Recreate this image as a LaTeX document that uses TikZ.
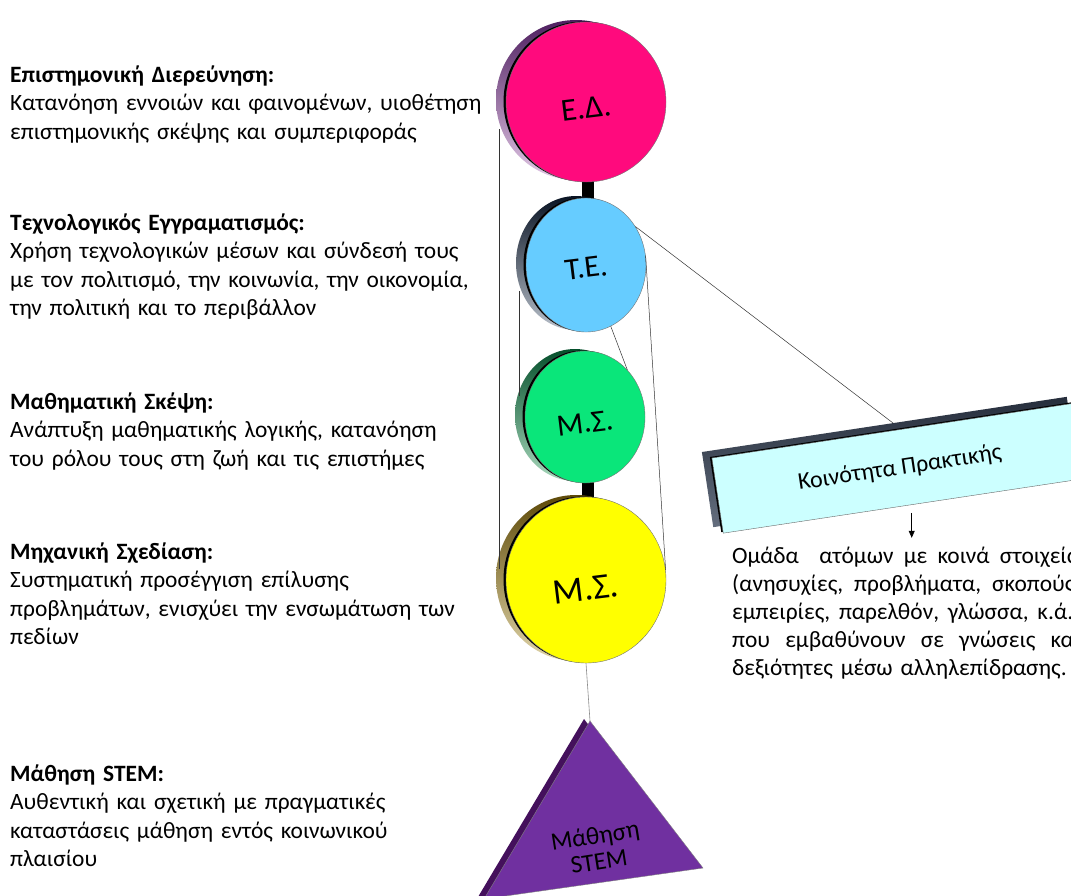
\documentclass[tikz,border=0pt]{standalone}
\usepackage{fontspec}
\setmainfont{Carlito}
\usetikzlibrary{shapes.geometric,shadows,arrows.meta}

\definecolor{edface}{HTML}{FF0A7D}
\definecolor{edrimA}{HTML}{4F1F60}
\definecolor{edrimB}{HTML}{E2C8E6}
\definecolor{teface}{HTML}{66CCFF}
\definecolor{terimA}{HTML}{0A1424}
\definecolor{terimB}{HTML}{B8C0CA}
\definecolor{msgface}{HTML}{0AE67A}
\definecolor{msgrimA}{HTML}{05502C}
\definecolor{msgrimB}{HTML}{A8D8BC}
\definecolor{msyface}{HTML}{FFFF00}
\definecolor{msyrimA}{HTML}{5E4A08}
\definecolor{msyrimB}{HTML}{E0D4A8}
\definecolor{boxface}{HTML}{CCFFFF}
\definecolor{boxrimA}{HTML}{262E3C}
\definecolor{boxrimB}{HTML}{646E7E}
\definecolor{triface}{HTML}{7030A0}
\definecolor{tririm}{HTML}{44105C}

% a stretchable word gap for the justified lines
\newcommand{\wgap}{\hspace{0.23em plus 1fil}}
\newcommand{\jline}[1]{\leavevmode\hbox to 348pt{#1}}

\begin{document}
\begin{tikzpicture}[x=1pt,y=-1pt,
  link/.style={draw=black!80, line width=0.5pt},
  blurb/.style={anchor=base west, inner sep=0pt, text width=560pt, align=left,
    font=\fontsize{23.4}{28.5}\selectfont},
  disc/.style n args={3}{ellipse, inner sep=0pt, fill=#1, draw=black!55, line width=0.4pt,
    general shadow={shadow xshift=-10pt, shadow yshift=2pt, top color=#2, bottom color=#3},
    general shadow={shadow xshift=-2.5pt, shadow yshift=0.5pt, fill=black}},
  disclabel/.style={rotate=7, inner sep=0pt},
  plaque/.style={rectangle, inner sep=0pt, fill=boxface, draw=black!60, line width=0.4pt,
    general shadow={shadow xshift=-10pt, shadow yshift=6pt, top color=boxrimA, bottom color=boxrimB},
    general shadow={shadow xshift=-2pt, shadow yshift=1pt, fill=black},
    font=\fontsize{24}{26}\selectfont}
]
\useasboundingbox (0,0) rectangle (1071,895);
\clip (0,0) rectangle (1071,895);
\fill[white] (0,0) rectangle (1071,895);

% descriptions on the left
\node[blurb] (t1) at (10,82) {\textbf{Επιστημονική Διερεύνηση:}\\
  Κατανόηση εννοιών και φαινομένων, υιοθέτηση\\
  επιστημονικής σκέψης και συμπεριφοράς};
\node[blurb] (t2) at (10,230) {\textbf{Τεχνολογικός Εγγραματισμός:}\\
  Χρήση τεχνολογικών μέσων και σύνδεσή τους\\
  με τον πολιτισμό, την κοινωνία, την οικονομία,\\
  την πολιτική και το περιβάλλον};
\node[blurb] (t3) at (10,409) {\textbf{Μαθηματική Σκέψη:}\\
  Ανάπτυξη μαθηματικής λογικής, κατανόηση\\
  του ρόλου τους στη ζωή και τις επιστήμες};
\node[blurb] (t4) at (10,559) {\textbf{Μηχανική Σχεδίαση:}\\
  Συστηματική προσέγγιση επίλυσης\\
  προβλημάτων, ενισχύει την ενσωμάτωση των\\
  πεδίων};
\node[blurb] (t5) at (10,781) {\textbf{Μάθηση STEM:}\\
  Αυθεντική και σχετική με πραγματικές\\
  καταστάσεις μάθηση εντός κοινωνικού\\
  πλαισίου};

% stems joining the discs
\fill[black] (582,170) rectangle (594,205);
\fill[black] (582,475) rectangle (594,505);

% the four discs
\node[disc={edface}{edrimA}{edrimB}, minimum width=160, minimum height=160] (ed) at (586,102) {};
\node[disc={teface}{terimA}{terimB}, minimum width=120, minimum height=134] (te) at (586,265) {};
\node[disc={msgface}{msgrimA}{msgrimB}, minimum width=120, minimum height=132] (msg) at (585,417) {};
\node[disc={msyface}{msyrimA}{msyrimB}, minimum width=160, minimum height=166] (msy) at (586,580) {};

\node[disclabel, font=\fontsize{32}{32}\selectfont] (edl) at ([yshift=-6pt]ed.center) {Ε.Δ.};
\node[disclabel, font=\fontsize{31}{31}\selectfont] (tel) at ([yshift=-3pt]te.center) {Τ.Ε.};
\node[disclabel, font=\fontsize{31}{31}\selectfont] (msgl) at ([yshift=-6pt]msg.center) {Μ.Σ.};
\node[disclabel, font=\fontsize{36}{36}\selectfont] (msyl) at ([yshift=-9pt]msy.center) {Μ.Σ.};

% thin connecting lines between the discs
\coordinate (l1top) at ([xshift=-11pt]ed.200);
\draw[link] (l1top) -- (l1top |- msy.172);
\coordinate (l2top) at ([xshift=-11pt]te.205);
\draw[link] (l2top) -- (l2top |- msg.160);
\draw[link] (te.9) -- (msy.7);
\draw[link] (te.292) -- (msg.48);

% community of practice plaque
\node[plaque, rotate=8.6, minimum width=369, minimum height=76] (bx) at (900,468) {Κοινότητα Πρακτικής};
\draw[link] (te.38) -- ([shift={(-1pt,7pt)}]bx.north);

\coordinate (arrS) at ([xshift=6pt,yshift=-7pt]bx.south);
\coordinate (arrE) at ([yshift=-25pt]arrS);
\draw[black, line width=0.6pt, -{Triangle[length=7pt,width=6pt]}] (arrS) -- (arrE);

% justified description under the plaque
\node[anchor=base west, inner sep=0pt, text width=348pt, align=left,
      font=\fontsize{23.4}{28.2}\selectfont] (para) at (732,563) {%
  \jline{Ομάδα\wgap\wgap ατόμων\wgap με\wgap κοινά\wgap στοιχεία}\\
  \jline{(ανησυχίες,\wgap προβλήματα,\wgap σκοπούς,}\\
  \jline{εμπειρίες,\wgap παρελθόν,\wgap γλώσσα,\wgap κ.ά.)}\\
  \jline{που\wgap εμβαθύνουν\wgap σε\wgap γνώσεις\wgap και}\\
  δεξιότητες μέσω αλληλεπίδρασης.};

% STEM learning triangle
\coordinate (apex) at (590,721);
\draw[black!45, line width=0.6pt] (msy.south) -- (apex);
\path[fill=triface, draw=black!50, line width=0.4pt,
      general shadow={shadow xshift=-6pt, shadow yshift=2pt, fill=tririm}]
  (apex) -- (703,868) -- (484,899) -- cycle;
\node[rotate=9, align=center, inner sep=0pt, font=\fontsize{25}{26}\selectfont] (tril) at (597,848) {Μάθηση\\STEM};
\end{tikzpicture}
\end{document}
